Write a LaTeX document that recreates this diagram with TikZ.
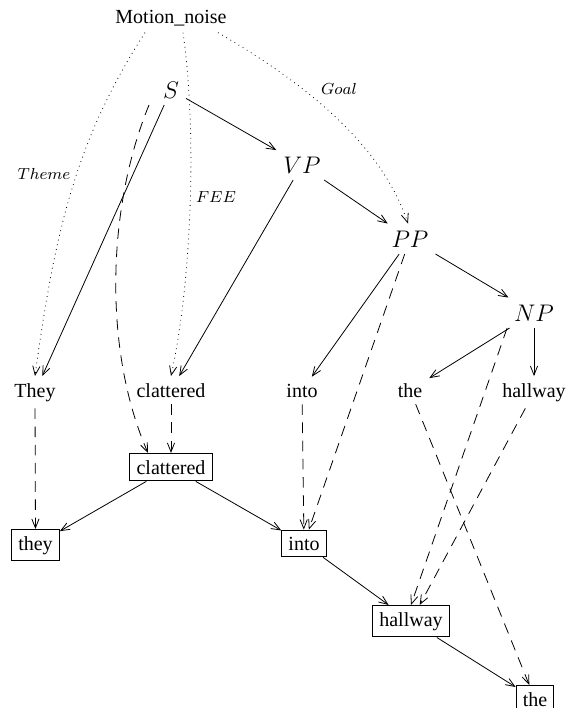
\documentclass[tikz,border=0pt]{standalone}
\usepackage{fontspec}
\setmainfont{Liberation Serif}
\usetikzlibrary{arrows.meta}

\begin{document}
\begin{tikzpicture}[x=0.5pt,y=-0.5pt,
  >={Straight Barb[length=4.5pt,width=3.6pt]},
  word/.style={anchor=base, inner sep=3.33pt, font=\fontsize{10}{12}\selectfont},
  cat/.style={anchor=base, inner sep=3.33pt, font=\large},
  leaf/.style={word, draw, line width=0.5pt},
  role/.style={font=\footnotesize},
  tree/.style={->},
  link/.style={->, dash pattern=on 5.3pt off 3.8pt},
  frame/.style={->, dotted},
]
\useasboundingbox (0,0) rectangle (571,708);

% frame and syntactic categories
\node[word] (mn) at (171,23) {Motion\_noise};
\node[cat] (S)  at (171,98)  {$S$};
\node[cat] (VP) at (302,173) {$VP$};
\node[cat] (PP) at (410,247) {$PP$};
\node[cat] (NP) at (534,321) {$NP$};

% words of the sentence
\node[word] (w1) at (35,397)  {They};
\node[word] (w2) at (171,397) {clattered};
\node[word] (w3) at (302,397) {into};
\node[word] (w4) at (410,397) {the};
\node[word] (w5) at (534,397) {hallway};

% dependency nodes
\node[leaf] (b2) at (171,474)  {clattered};
\node[leaf] (b1) at (35.5,550) {they};
\node[leaf] (b3) at (304,550)  {into};
\node[leaf] (b5) at (411,626)  {hallway};
\node[leaf] (b4) at (535,706)  {the};

% frame element labels
\node[role] (lt) at (44,174)  {$Theme$};
\node[role] (lf) at (216,197) {$FEE$};
\node[role] (lg) at (339,89)  {$Goal$};

% phrase structure
\draw[tree] (S) -- (w1);
\draw[tree] (S) -- (VP);
\draw[tree] (VP) -- (w2);
\draw[tree] (VP) -- (PP);
\draw[tree] (PP) -- (w3);
\draw[tree] (PP) -- (NP);
\draw[tree] (NP) -- (w4);
\draw[tree] (NP) -- (w5);

% dependency arcs
\draw[tree] (b2) -- (b1);
\draw[tree] (b2) -- (b3);
\draw[tree] (b3) -- (b5);
\draw[tree] (b5) -- (b4);

% alignment links
\draw[link] ([xshift=-11pt]S.south) .. controls (107,207) and (103,350) .. ([xshift=-11.5pt]b2.north);
\draw[link] (w1) -- (b1);
\draw[link] (w2) -- (b2);
\draw[link] (w3) -- (b3);
\draw[link] (PP) -- (b3);
\draw[link] (w4) -- (b4);
\draw[link] (w5) -- (b5);
\draw[link] (NP.south west) -- (b5.north);

% frame elements
\draw[frame] ([xshift=-13pt]mn.south) .. controls (77,138) and (55,229) .. (w1.north);
\draw[frame] ([xshift=6pt]mn.south) .. controls (197,130) and (192,280) .. (w2.north);
\draw[frame] ([xshift=23.5pt]mn.south) .. controls (303,82) and (381,143) .. ([xshift=-1pt]PP.north);
\end{tikzpicture}
\end{document}
